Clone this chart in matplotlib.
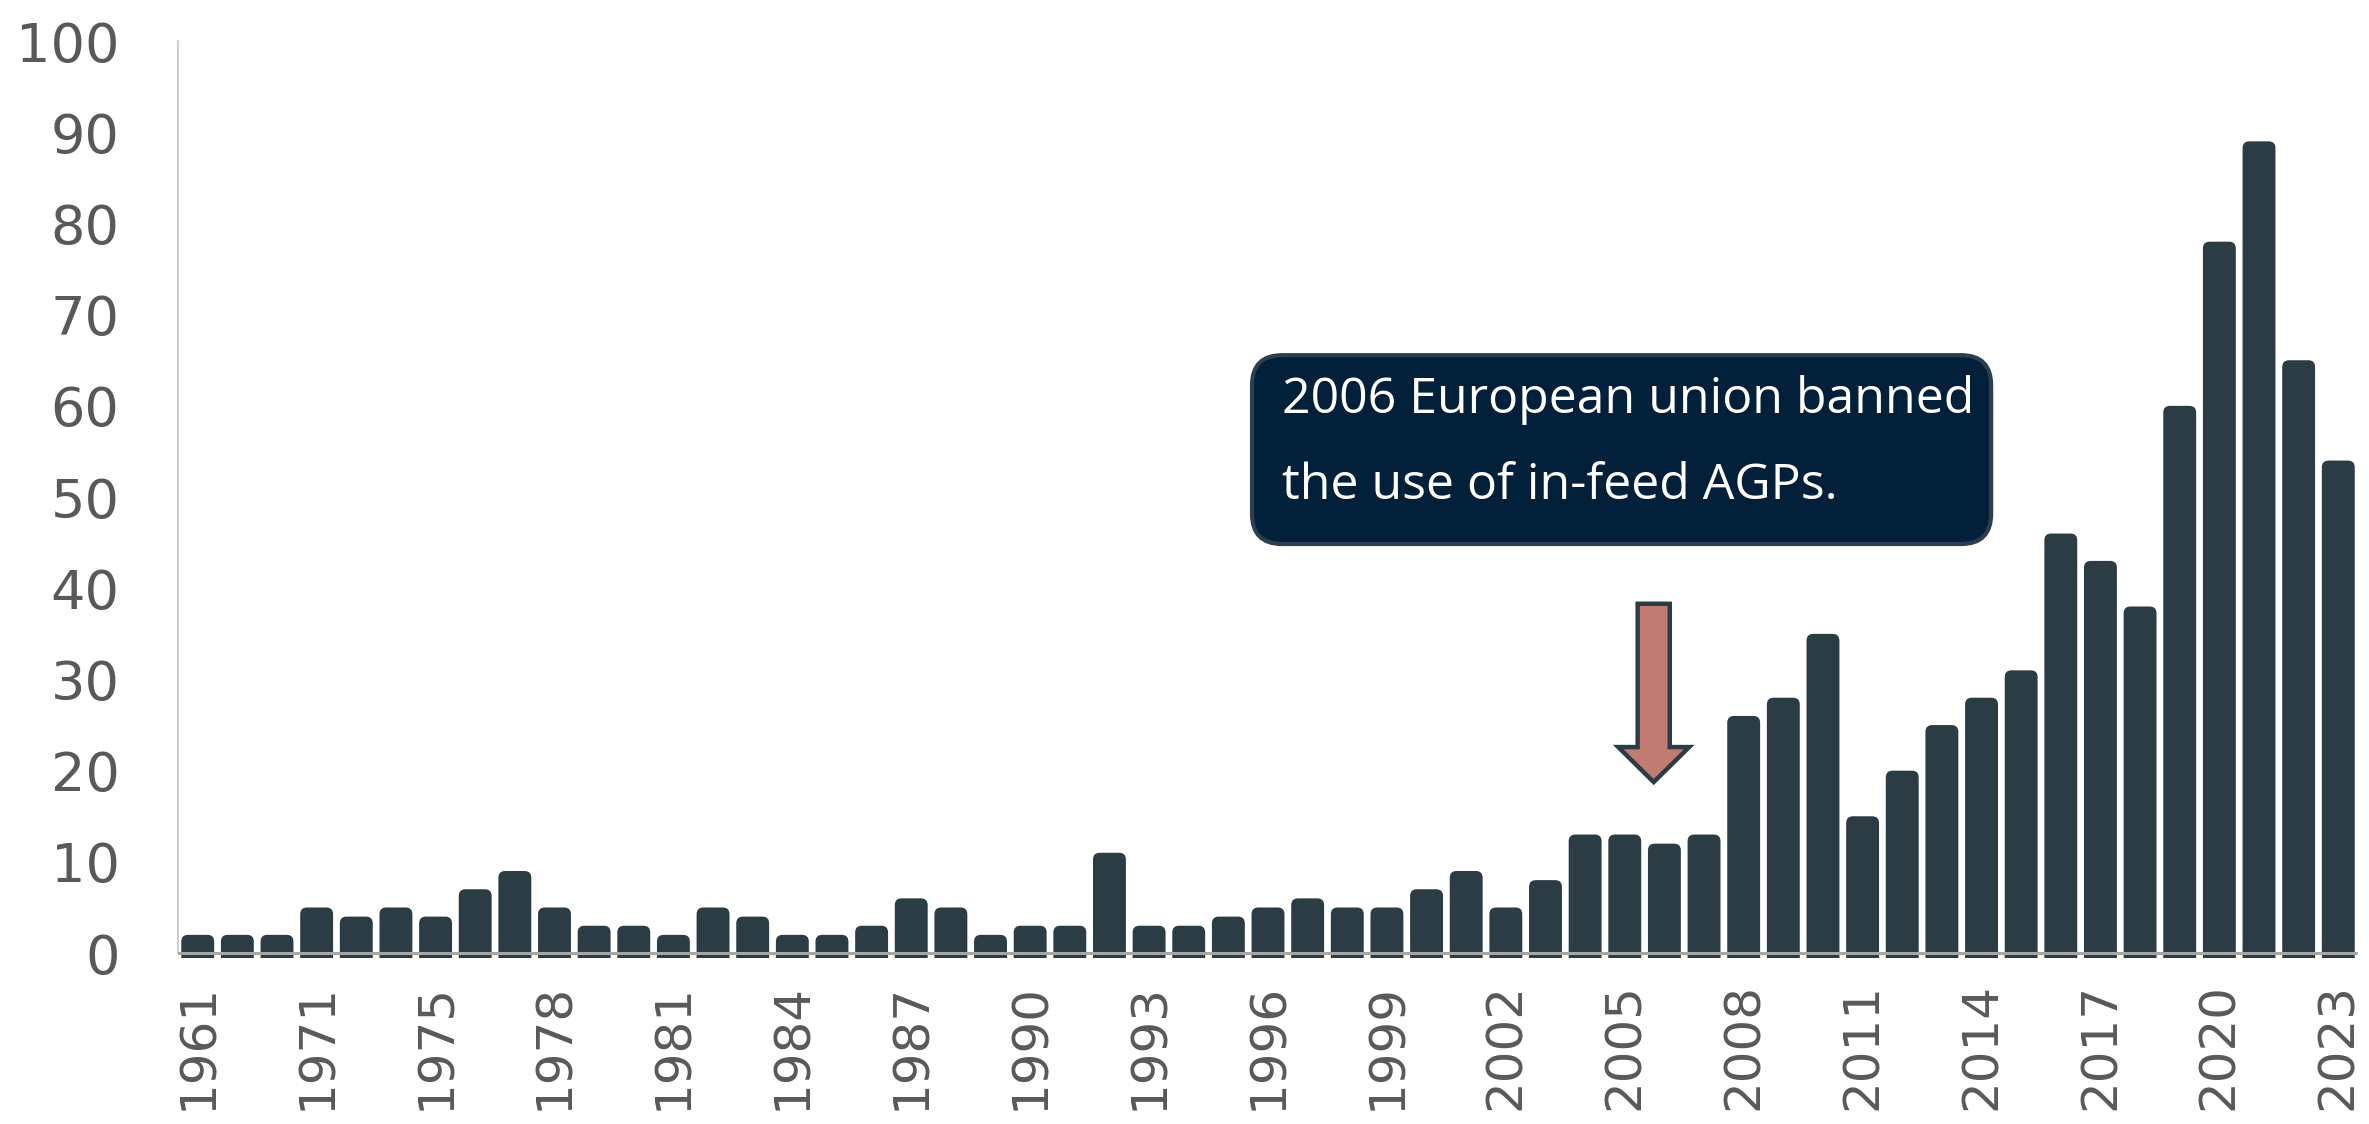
import matplotlib.pyplot as plt
from matplotlib.patches import FancyBboxPatch, FancyArrow
import numpy as np

# categories (years) and yearly counts
years = [1961, 1965, 1968, 1971, 1972, 1973] + list(range(1975, 2024))
counts = [2, 2, 2, 5, 4, 5, 4, 7, 9, 5,
          3, 3, 2, 5, 4, 2, 2, 3, 6, 5,
          2, 3, 3, 11, 3, 3, 4, 5, 6, 5,
          5, 7, 9, 5, 8, 13, 13, 12, 13, 26,
          28, 35, 15, 20, 25, 28, 31, 46, 43, 38,
          60, 78, 89, 65, 54]

note_lines = ["2006 European union banned", "the use of in-feed AGPs."]
note_year = 2006

BAR = "#2B3C45"
TXT = "#595959"

fig = plt.figure(figsize=(23.69, 11.24), dpi=100)
ax = fig.add_axes([0.0751, 0.148, 0.9203, 0.8155])

x = np.arange(len(years))
ax.set_xlim(-0.5, len(years) - 0.5)
ax.set_ylim(-0.5, 100)

# bars with rounded tops; bottom corners sit below the clip edge
w = 0.83
px_x = 39.6
px_y = 9.12
for xi, v in zip(x, counts):
    p = FancyBboxPatch((xi - w / 2, -3), w, v + 3,
                       boxstyle="round,pad=0,rounding_size=0.17",
                       mutation_aspect=px_x / px_y,
                       fc=BAR, ec="none", zorder=2)
    ax.add_patch(p)

ax.axhline(0, color="#A6A6A6", lw=2.2, zorder=3)

for s in ["top", "right", "bottom"]:
    ax.spines[s].set_visible(False)
ax.spines["left"].set_color("#BFBFBF")
ax.spines["left"].set_linewidth(1.1)
ax.spines["left"].set_bounds(0, 100)

ax.set_yticks(range(0, 101, 10))
ax.tick_params(axis="y", length=0, pad=42, labelsize=39, labelcolor=TXT)
ax.set_xticks(x[::3])
ax.set_xticklabels([str(y) for y in years[::3]], rotation=90)
ax.tick_params(axis="x", length=0, pad=18, labelsize=36, labelcolor=TXT)

# arrow pointing at the ban year
ix = years.index(note_year) - 0.27
arr = FancyArrow(ix, 38.3, 0, -19.55, width=0.81, head_width=1.79,
                 head_length=3.84, length_includes_head=True,
                 fc="#C17B72", ec=BAR, lw=3.2, zorder=4)
ax.add_patch(arr)

# callout box
box = FancyBboxPatch((0.5285, 0.516), 0.312, 0.168,
                     boxstyle="round,pad=0,rounding_size=0.0127",
                     mutation_aspect=2369 / 1124,
                     transform=fig.transFigure,
                     fc="#03203A", ec="#2C3E50", lw=3, zorder=5)
fig.patches.append(box)
fig.text(0.541, 0.644, note_lines[0], color="white", fontsize=36,
         family="Open Sans", va="center", ha="left", zorder=6)
fig.text(0.541, 0.5676, note_lines[1], color="white", fontsize=36,
         family="Open Sans", va="center", ha="left", zorder=6)

fig.savefig("out.png", dpi=100)
